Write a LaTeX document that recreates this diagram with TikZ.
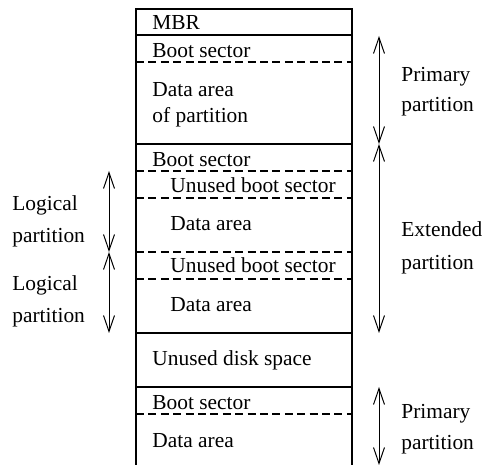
\documentclass[tikz,border=0pt]{standalone}
\usepackage{fontspec}
\setmainfont{Liberation Serif}
\usetikzlibrary{arrows.meta, positioning}
\tikzset{
    partLine/.style={line width=0.6pt},
    partDash/.style={line width=0.6pt, dash pattern=on 4pt off 2.2pt},
    partText/.style={anchor=base west, inner sep=0pt, font=\fontsize{10.7}{13}\selectfont},
    sideText/.style={partText, align=left},
    partSpan/.style={{Straight Barb[length=8pt,width=5.5pt]}-{Straight Barb[length=8pt,width=5.5pt]}, line width=0.5pt},
}
\newcommand{\sepLine}[2][partLine]{
    \draw[#1] (136,#2) -- (352,#2);
}
\newcommand{\drawSpan}[2]{
    \draw[partSpan] (#1) -- (#2);
}

\begin{document}
\begin{tikzpicture}[x=0.5pt, y=-0.5pt]
    \useasboundingbox (0,0) rectangle (483,465);

    % the disk
    \draw[partLine] (136,465) -- (136,9) -- (352,9) -- (352,465);
    \foreach \y in {35,144,333,387} {\sepLine{\y}}
    \foreach \y in {62,171,198,252,279,414} {\sepLine[partDash]{\y}}

    \node[partText] (mbr) at (152,30) {MBR};
    \node[partText] (boot1) at (152,58) {Boot sector};
    \node[sideText] (data1) at (152,123) {Data area\\of partition};
    \node[partText] (boot2) at (152,167) {Boot sector};
    \node[partText] (unused1) at (170,193) {Unused boot sector};
    \node[partText] (data2) at (170,231) {Data area};
    \node[partText] (unused2) at (170,273) {Unused boot sector};
    \node[partText] (data3) at (170,312) {Data area};
    \node[partText] (free) at (152,366) {Unused disk space};
    \node[partText] (boot3) at (152,409) {Boot sector};
    \node[partText] (data4) at (152,448) {Data area};

    % spans
    \coordinate (pA) at (379,36);
    \coordinate (pB) at (379,144);
    \coordinate (pC) at (379,333);
    \coordinate (pD) at (379,387);
    \coordinate (pE) at (379,465);
    \coordinate (lA) at (109,171);
    \coordinate (lB) at (109,252);
    \coordinate (lC) at (109,333);

    \drawSpan{pA}{pB}
    \drawSpan{pB}{pC}
    \drawSpan{pD}{pE}
    \drawSpan{lA}{lB}
    \drawSpan{lB}{lC}

    \node[sideText] (prim1) at (401,112) {Primary\\[2pt]partition};
    \node[sideText] (ext) at (401,270) {Extended\\[3.5pt]partition};
    \node[sideText] (prim2) at (401,450) {Primary\\[2.5pt]partition};
    \node[sideText] (log1) at (12,243) {Logical\\[3.5pt]partition};
    \node[sideText] (log2) at (12,323) {Logical\\[3.5pt]partition};

\end{tikzpicture}
\end{document}
